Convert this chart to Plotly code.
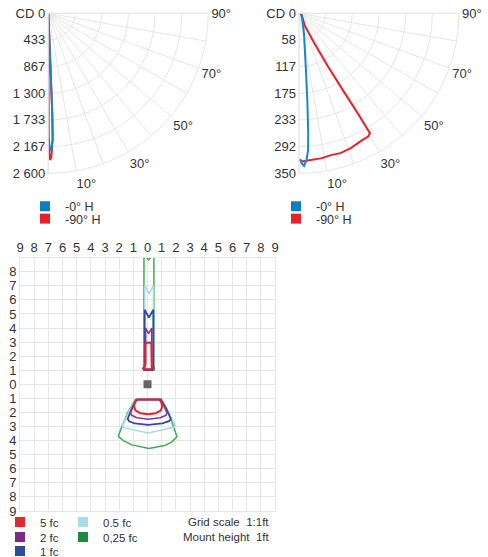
import plotly.graph_objects as go

W, H = 488, 557
FONT = "Arial, Liberation Sans, Helvetica, sans-serif"
TXT = "#333333"
GRID = "#e6e6e6"

# ---------------- polar candela data ----------------
ANG_DEG = [0, 10, 20, 30, 40, 50, 60, 70, 80, 90]
ANG_LABELS = ["", "10°", "", "30°", "", "50°", "", "70°", "", "90°"]

# left chart, 0..2600 cd
L_RMAX = 2600
L_TICKTEXT = ["CD 0", "433", "867", "1 300", "1 733", "2 167", "2 600"]
L_RED_THETA = [0.2, 0.2, 0.5, 0.8, 1.2, 1.6, 2.0, 2.25, 2.3, 2.4, 2.8, 90]
L_RED_R = [0, 2150, 2330, 2384, 2330, 2194, 2033, 1654, 1220, 569, 150, 0]
L_BLUE_THETA = [0.2, 0.6, 1.0, 1.5, 2.0, 2.25, 2.3, 2.35, 2.6, 4, 90]
L_BLUE_R = [2030, 2180, 2238, 2170, 2033, 1654, 1220, 569, 190, 40, 0]

# right chart, 0..350 cd
R_RMAX = 350
R_TICKTEXT = ["CD 0", "58", "117", "175", "233", "292", "350"]
R_RED_THETA = [0.2, 1.3, 4.5, 8.6, 12.7, 16.5, 21.0, 26.3, 29.3, 30.6, 30.5, 29.8, 28.5, 27.0, 25.0, 90]
R_RED_R = [320, 324, 322, 321, 318, 319, 316, 310, 309, 305, 260, 200, 130, 70, 30, 5]
R_BLUE_THETA = [0.4, 1.0, 1.9, 3.0, 3.8, 4.4, 5.5, 7.2, 14, 40, 90]
R_BLUE_R = [319, 328, 334, 320, 300, 263, 190, 118, 45, 10, 3]

BLUE_LINE, BLUE_KEY = "#1688c9", "#0b7fc1"
RED_LINE, RED_KEY = "#e8202a", "#e8202a"
PLANE_NAMES = ["-0° H", "-90° H"]

# ---------------- isolux data (ft) ----------------
GRID_TICKS = list(range(-9, 10))
LUMINAIRE_X = [0]
LUMINAIRE_Y = [0]

LEVEL_NAMES = ["5 fc", "2 fc", "1 fc", "0.5 fc", "0,25 fc"]

FC5_TOP_X = [-0.16, -0.16, -0.1, 0.22, 0.27, 0.27, 0.3, 0.4, 0.36, -0.26, -0.3, -0.22, -0.16]
FC5_TOP_Y = [1.45, 2.85, 2.96, 2.97, 2.85, 1.45, 1.25, 1.15, 1.07, 1.07, 1.15, 1.25, 1.45]
FC5_FAN_X = [-0.72, 0.85, 0.98, 1.03, 0.95, 0.6, 0.05, -0.5, -0.85, -0.95, -0.9, -0.72]
FC5_FAN_Y = [-1.08, -1.08, -1.3, -1.6, -1.85, -2.05, -2.12, -2.05, -1.85, -1.6, -1.3, -1.08]

FC2_TOP_X = [-0.13, -0.13, 0.08, 0.3, 0.3, 0.33, 0.3, -0.2, -0.22, -0.13]
FC2_TOP_Y = [1.4, 4.0, 3.6, 4.0, 1.4, 1.12, 1.05, 1.05, 1.12, 1.4]
FC2_FAN_X = [-0.78, 0.92, 1.15, 1.38, 1.3, 0.9, 0.05, -0.75, -1.12, -1.2, -1.0, -0.78]
FC2_FAN_Y = [-1.08, -1.08, -1.5, -2.05, -2.2, -2.38, -2.48, -2.38, -2.2, -2.05, -1.5, -1.08]

FC1_TOP_X = [-0.2, -0.2, 0.1, 0.41, 0.41, 0.45, 0.38, -0.25, -0.3, -0.2]
FC1_TOP_Y = [1.3, 5.3, 4.75, 5.3, 1.3, 1.12, 1.02, 1.02, 1.12, 1.3]
FC1_FAN_X = [-0.8, 0.95, 1.3, 1.65, 1.55, 1.05, 0.05, -0.9, -1.3, -1.4, -1.1, -0.8]
FC1_FAN_Y = [-1.08, -1.08, -1.7, -2.45, -2.6, -2.78, -2.88, -2.78, -2.62, -2.45, -1.7, -1.08]

FC05_TOP_X = [-0.2, -0.2, 0.12, 0.42, 0.42, -0.2]
FC05_TOP_Y = [1.03, 7.05, 6.45, 7.05, 1.03, 1.03]
FC05_FAN_X = [-0.82, 1.0, 1.45, 1.95, 1.85, 0.05, -1.7, -1.78, -1.3, -0.82]
FC05_FAN_Y = [-1.06, -1.06, -1.9, -2.9, -3.05, -3.45, -3.08, -2.95, -1.9, -1.06]

FC025_TOP_X = [-0.25, -0.25, 0.08, 0.45, 0.45, -0.25]
FC025_TOP_Y = [1.0, 9.25, 8.85, 9.25, 1.0, 1.0]
FC025_FAN_X = [-0.85, 1.0, 1.5, 2.05, 2.08, 1.7, 1.2, 0.1, -1.1, -1.7, -2.05, -2.0, -1.4, -0.85]
FC025_FAN_Y = [-1.06, -1.06, -2.0, -3.5, -3.72, -4.1, -4.35, -4.55, -4.3, -4.0, -3.72, -3.5, -2.0, -1.06]

LEVEL_LINE_COLORS = ["#e3242b", "#8e3592", "#2f4b9e", "#a6d9e8", "#3cae4e"]
LEVEL_KEY_COLORS = ["#e8242c", "#7b2a8a", "#2e4c9e", "#a9dbe9", "#1d8a3e"]
LEVEL_WIDTHS = [2, 1.6, 1.8, 1.5, 1.5]
LEVEL_SHAPES = [
    (FC5_TOP_X, FC5_TOP_Y, FC5_FAN_X, FC5_FAN_Y),
    (FC2_TOP_X, FC2_TOP_Y, FC2_FAN_X, FC2_FAN_Y),
    (FC1_TOP_X, FC1_TOP_Y, FC1_FAN_X, FC1_FAN_Y),
    (FC05_TOP_X, FC05_TOP_Y, FC05_FAN_X, FC05_FAN_Y),
    (FC025_TOP_X, FC025_TOP_Y, FC025_FAN_X, FC025_FAN_Y),
]

NOTE_LINES = ["Grid scale\u00a0\u00a01:1ft", "Mount height\u00a0\u00a01ft"]

# ---------------- figure ----------------
fig = go.Figure()

for sub, rt, rr, bt, br in [
    ("polar", L_RED_THETA, L_RED_R, L_BLUE_THETA, L_BLUE_R),
    ("polar2", R_RED_THETA, R_RED_R, R_BLUE_THETA, R_BLUE_R),
]:
    fig.add_trace(go.Scatterpolar(theta=rt, r=rr, mode="lines", subplot=sub,
                                  line=dict(color=RED_LINE, width=2), showlegend=False,
                                  hoverinfo="skip"))
    fig.add_trace(go.Scatterpolar(theta=bt, r=br, mode="lines", subplot=sub,
                                  line=dict(color=BLUE_LINE, width=2), showlegend=False,
                                  hoverinfo="skip"))

for i in reversed(range(len(LEVEL_NAMES))):
    tx, ty, fx, fy = LEVEL_SHAPES[i]
    fig.add_trace(go.Scatter(x=tx + [None] + fx, y=ty + [None] + fy, mode="lines",
                             line=dict(color=LEVEL_LINE_COLORS[i], width=LEVEL_WIDTHS[i]),
                             showlegend=False, hoverinfo="skip"))

fig.add_trace(go.Scatter(x=LUMINAIRE_X, y=LUMINAIRE_Y, mode="markers",
                         marker=dict(symbol="square", size=8, color="#666666"),
                         showlegend=False, hoverinfo="skip"))

# ---------------- legends (one entry each, for exact spacing) ----------------
legend_layouts = {}
leg_count = [0]


def add_key(name, color, sym_px, sym_py, size):
    leg_count[0] += 1
    key = "legend" if leg_count[0] == 1 else f"legend{leg_count[0]}"
    fig.add_trace(go.Scatter(x=[None], y=[None], mode="markers", name=name, legend=key,
                             marker=dict(symbol="square", size=10, color=color)))
    legend_layouts[key] = dict(
        xref="container", yref="container",
        x=(sym_px - 20) / W, y=1 - sym_py / H, xanchor="left", yanchor="middle",
        bgcolor="rgba(0,0,0,0)", borderwidth=0, itemwidth=30,
        font=dict(family=FONT, size=size, color=TXT),
    )


for cx in (45, 296):
    add_key(PLANE_NAMES[0], BLUE_KEY, cx, 206.5, 12.5)
    add_key(PLANE_NAMES[1], RED_KEY, cx, 219, 12.5)

KEY_POS = [(20, 522), (20, 537), (20, 551), (83, 522), (83, 537)]
for i, name in enumerate(LEVEL_NAMES):
    add_key(name, LEVEL_KEY_COLORS[i], KEY_POS[i][0], KEY_POS[i][1], 11.5)


# ---------------- layout ----------------
def polar_layout(x0_px, rmax, ticktext):
    return dict(
        domain=dict(x=[x0_px / W, (x0_px + 160) / W], y=[1 - 173.3 / H, 1 - 13.3 / H]),
        sector=[270, 360],
        bgcolor="white",
        angularaxis=dict(rotation=270, direction="counterclockwise", ticks="",
                         tickmode="array",
                         # this sector's angular tick range runs 360..450
                         tickvals=[360 + a for a in ANG_DEG], ticktext=ANG_LABELS,
                         showgrid=True, gridcolor=GRID, gridwidth=1,
                         showline=True, linecolor=GRID, linewidth=1,
                         tickfont=dict(family=FONT, size=13, color=TXT)),
        radialaxis=dict(range=[0, rmax], tickvals=[rmax * k / 6 for k in range(7)],
                        ticktext=ticktext, ticks="", showline=False,
                        showgrid=True, gridcolor=GRID, gridwidth=1,
                        angle=270, tickangle=-90, side="clockwise",
                        tickfont=dict(family=FONT, size=13, color=TXT)),
    )


fig.update_layout(
    width=W, height=H,
    margin=dict(l=0, r=0, t=0, b=0, autoexpand=False),
    paper_bgcolor="white", plot_bgcolor="white",
    font=dict(family=FONT, color=TXT),
    polar=polar_layout(48.3, L_RMAX, L_TICKTEXT),
    polar2=polar_layout(299, R_RMAX, R_TICKTEXT),
    xaxis=dict(domain=[20 / W, 275 / W], range=[-9, 9], side="top",
               tickvals=GRID_TICKS, ticktext=[str(abs(v)) for v in GRID_TICKS],
               ticks="", showgrid=True, gridcolor=GRID, zeroline=False,
               showline=True, linecolor=GRID, mirror=True, fixedrange=True,
               tickfont=dict(family=FONT, size=13, color=TXT)),
    yaxis=dict(domain=[1 - 511 / H, 1 - 257.7 / H], range=[-9, 9],
               tickvals=GRID_TICKS[:-1], ticktext=[str(abs(v)) for v in GRID_TICKS[:-1]],
               ticks="", showgrid=True, gridcolor=GRID, zeroline=False,
               showline=True, linecolor=GRID, mirror=True, fixedrange=True,
               tickfont=dict(family=FONT, size=13, color=TXT)),
    showlegend=True,
    **legend_layouts,
)

for k, line in enumerate(NOTE_LINES):
    fig.add_annotation(text=line, xref="paper", yref="paper", x=271 / W, y=1 - (522 + 15 * k) / H,
                       xanchor="right", yanchor="middle", showarrow=False,
                       font=dict(family=FONT, size=11.5, color=TXT))

fig.write_html("out.html", config={"displayModeBar": False},
               post_script="document.body.style.margin='0px';")
